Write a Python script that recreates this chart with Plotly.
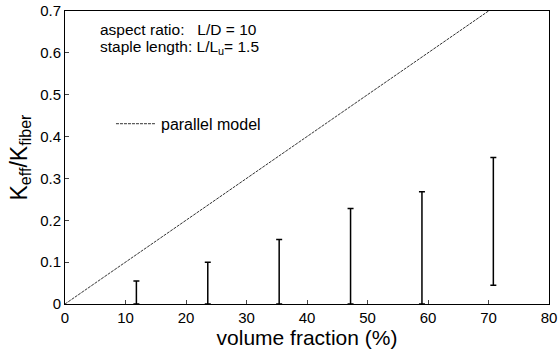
import plotly.graph_objects as go

# Data
vol_fraction = [11.8, 23.6, 35.4, 47.2, 59.0, 70.8]
k_low = [0.0, 0.0, 0.0, 0.0, 0.0, 0.045]
k_high = [0.055, 0.100, 0.154, 0.228, 0.268, 0.350]

parallel_x = [0, 70]
parallel_y = [0.0, 0.7]

x_ticks = [0, 10, 20, 30, 40, 50, 60, 70, 80]
y_ticks = [0, 0.1, 0.2, 0.3, 0.4, 0.5, 0.6, 0.7]
y_ticklabels = ["0", "0.1", "0.2", "0.3", "0.4", "0.5", "0.6", "0.7"]

FONT = "Liberation Sans, Arial, Helvetica, sans-serif"

mid = [(a + b) / 2 for a, b in zip(k_low, k_high)]
half = [(b - a) / 2 for a, b in zip(k_low, k_high)]

fig = go.Figure()

fig.add_trace(go.Scatter(
    x=parallel_x, y=parallel_y, mode="lines",
    line=dict(color="#333333", width=1, dash="3px,1px"),
    name="parallel model", showlegend=True,
))

fig.add_trace(go.Scatter(
    x=vol_fraction, y=mid, mode="markers",
    marker=dict(size=1, color="rgba(0,0,0,0)"),
    error_y=dict(type="data", array=half, symmetric=True,
                 color="black", thickness=1.5, width=3),
    showlegend=False, cliponaxis=False,
))

fig.update_layout(
    width=560, height=354,
    margin=dict(l=65, r=11, t=11, b=50),
    paper_bgcolor="white", plot_bgcolor="white",
    font=dict(family=FONT, color="black"),
    legend=dict(x=0.095, y=0.615, xanchor="left", yanchor="middle",
                bgcolor="rgba(0,0,0,0)", font=dict(size=16, family=FONT),
                itemwidth=40),
    xaxis=dict(
        range=[0, 80], tickvals=x_ticks, ticks="inside", ticklen=4,
        showline=True, linecolor="black", linewidth=1, mirror=True,
        showgrid=False, zeroline=False, tickfont=dict(size=15),
        automargin=False,
        title=dict(text="volume fraction (%)", font=dict(size=21), standoff=2),
    ),
    yaxis=dict(
        range=[0, 0.7], tickvals=y_ticks, ticktext=y_ticklabels,
        ticks="inside", ticklen=4,
        showline=True, linecolor="black", linewidth=1, mirror=True,
        showgrid=False, zeroline=False, tickfont=dict(size=15),
        automargin=False,
        title=dict(text="K<sub>eff</sub>/K<sub>fiber</sub>", font=dict(size=23), standoff=6),
    ),
    annotations=[
        dict(x=5.4, y=0.655, xref="x", yref="y", xanchor="left", yanchor="middle",
             text="aspect ratio:   L/D = 10", showarrow=False, font=dict(size=15.5)),
        dict(x=5.4, y=0.612, xref="x", yref="y", xanchor="left", yanchor="middle",
             text="staple length: L/L<sub>u</sub>= 1.5", showarrow=False, font=dict(size=15.5)),
    ],
)

fig.write_html("out.html")
